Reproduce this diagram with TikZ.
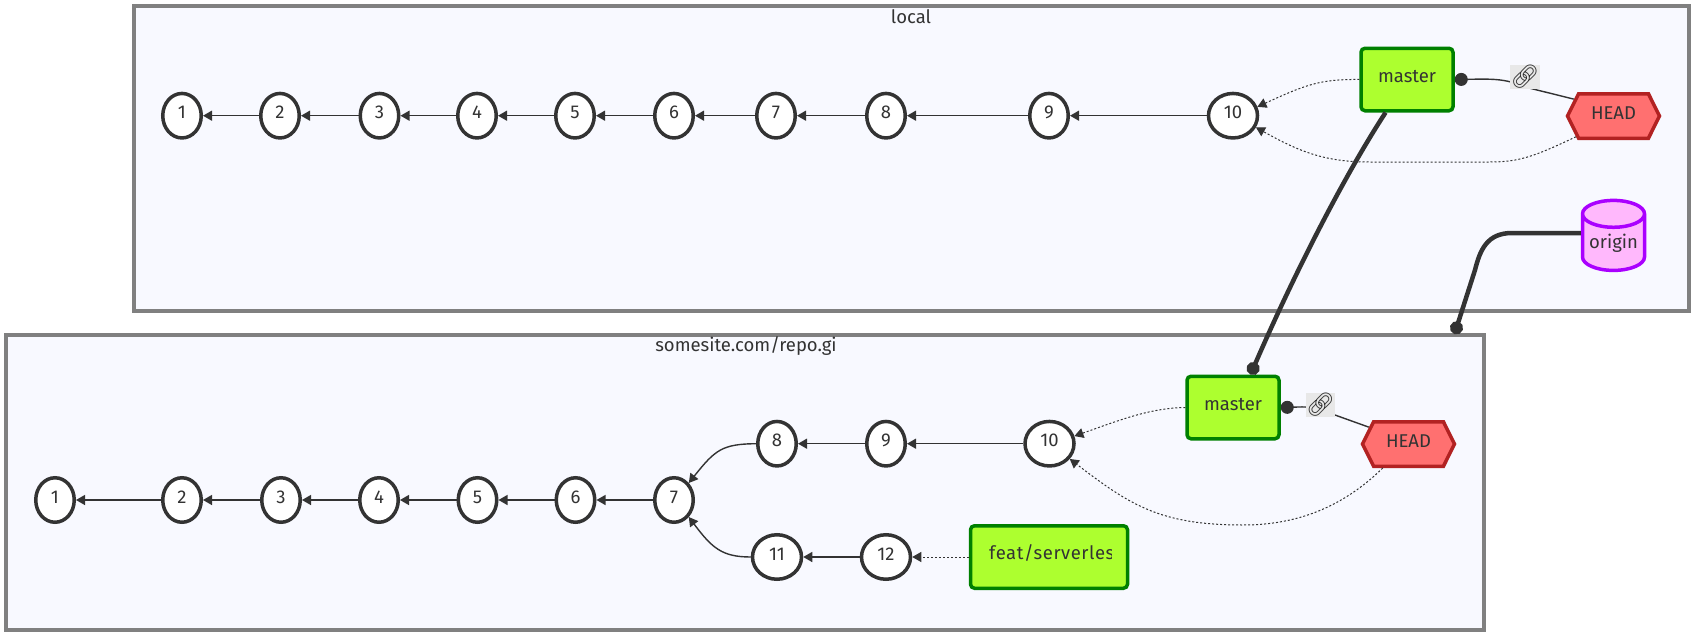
\documentclass[tikz,border=0pt]{standalone}
\usepackage{fontspec}
\setmainfont{Fira Sans}
\newfontfamily\emojifont{Noto Emoji}
\usetikzlibrary{arrows.meta,shapes.geometric,shapes.symbols}
\definecolor{ink}{HTML}{333333}
\definecolor{clusterfill}{HTML}{F8F9FF}
\definecolor{clusterline}{HTML}{808080}
\definecolor{branchfill}{HTML}{ADFF2F}
\definecolor{branchline}{HTML}{008000}
\definecolor{headfill}{HTML}{FF7070}
\definecolor{headline}{HTML}{B22222}
\definecolor{repofill}{HTML}{FFB8FC}
\definecolor{repoline}{HTML}{AA00FF}
\definecolor{linkfill}{HTML}{E8E8E8}
\tikzset{
  x=1pt,y=-1pt,
  every node/.style={font=\fontsize{18.5}{20}\selectfont,text=ink,inner sep=0pt},
  raised/.style={text height=13pt,text depth=7pt},
  cluster/.style={draw=clusterline,fill=clusterfill,line width=3.5pt},
  clustertitle/.style={anchor=center},
  commit/.style={raised,ellipse,draw=ink,fill=white,line width=3.5pt,minimum width=38.5pt,minimum height=44.5pt},
  commitw/.style={commit,minimum width=49pt},
  branch/.style={raised,rectangle,rounded corners=4pt,draw=branchline,fill=branchfill,line width=3.5pt,minimum height=62.5pt,minimum width=92pt},
  headbox/.style={raised,signal,signal to=west and east,signal pointer angle=127,draw=headline,fill=headfill,line width=3.5pt,minimum width=92pt,minimum height=44.5pt},
  repo/.style={cylinder,shape border rotate=90,aspect=0.55,cylinder uses custom fill,cylinder body fill=repofill,cylinder end fill=repofill,draw=repoline,line width=3.5pt,minimum width=62pt,minimum height=70pt},
  linklabel/.style={fill=linkfill,minimum width=24pt,minimum height=24pt,font=\emojifont\fontsize{23}{24}\selectfont},
  solidedge/.style={draw=ink,line width=1.4pt,-{Triangle[length=9pt,width=10pt]}},
  dottededge/.style={draw=ink,line width=1pt,dash pattern=on 2pt off 2pt,-{Triangle[length=9pt,width=10pt]}},
  linkedge/.style={draw=ink,line width=1.4pt,{Circle[length=13pt,width=13pt]}-},
  thickedge/.style={draw=ink,line width=4.5pt,-{Circle[length=13pt,width=13pt]}},
}
\begin{document}
\begin{tikzpicture}
\useasboundingbox (0,0) rectangle (1695,637);
% clusters
\node[cluster,minimum width=1555pt,minimum height=305pt,anchor=north west] (local) at (132,4) {};
\node[cluster,minimum width=1478pt,minimum height=295pt,anchor=north west] (remote) at (4,333) {};
\node[clustertitle] (localt) at (911,17) {local};
\node[clustertitle] (remotet) at (746,346) {somesite.com/repo.gi};
% local commits
\foreach \n/\x in {1/182,2/280,3/379.5,4/477,5/575,6/674,7/776,8/886,9/1049}
  \node[commit] (a\n) at (\x,115.7) {\n};
\node[commitw] (a10) at (1233,115.7) {10};
\node[branch] (m1) at (1407,79.5) {master};
\node[headbox] (h1) at (1613.5,116) {HEAD};
\node[repo] (o) at (1613.5,243) {origin};
% remote commits
\foreach \n/\x in {1/55,2/182,3/281,4/379,5/477.5,6/575.5,7/674}
  \node[commit] (b\n) at (\x,500) {\n};
\node[commit] (b8) at (777,443.7) {8};
\node[commit] (b9) at (886,443.7) {9};
\node[commitw] (b10) at (1049.5,443.7) {10};
\node[commitw] (b11) at (777,557) {11};
\node[commitw] (b12) at (886,557) {12};
\node[branch] (m2) at (1233,407.5) {master};
\node[headbox] (h2) at (1408.5,444) {HEAD};
\node[branch,minimum width=157pt] (fb) at (1049,557) {};
\begin{scope}
  \clip (985,530) rectangle (1111.5,585);
  \node[anchor=west] (fbt) at (989,553) {\addfontfeature{LetterSpace=3}feat/serverless};
\end{scope}
% local edges
\foreach \i/\j in {2/1,3/2,4/3,5/4,6/5,7/6,8/7,9/8,10/9}
  \draw[solidedge] (a\i) -- (a\j);
\draw[dottededge] (m1.west) .. controls (1320,79) and (1305,85) .. (a10.20);
\draw[dottededge] (h1.209) .. controls (1535,156) and (1520,162) .. (1490,162) -- (1370,162) .. controls (1325,162) and (1300,152) .. (a10.-27);
\draw[linkedge] (m1.east) .. controls (1490,79) and (1505,78) .. (1525,87) -- (h1.157);
% remote edges
\foreach \i/\j in {2/1,3/2,4/3,5/4,6/5,7/6,9/8,10/9,12/11}
  \draw[solidedge] (b\i) -- (b\j);
\draw[solidedge] (b8.west) .. controls (722,444) and (715,450) .. (b7.49);
\draw[solidedge] (b11.west) .. controls (722,557) and (712,548) .. (b7.-49);
\draw[dottededge] (fb.west) -- (b12.east);
\draw[dottededge] (m2.west) .. controls (1150,408) and (1120,420) .. (b10.17);
\draw[dottededge] (h2.223) .. controls (1345,505) and (1300,525) .. (1243,525) .. controls (1160,525) and (1130,505) .. (b10.-37);
\draw[linkedge] (m2.east) .. controls (1300,407) and (1310,406) .. (1321,410) -- (h2.157);
% link labels
\node[linklabel] (l1) at (1525,77) {🔗};
\node[linklabel] (l2) at (1320.5,405) {🔗};
% thick edges between clusters
\coordinate (remotehook) at (1454.5,334);
\draw[thickedge] (m1.237) .. controls (1348,170) and (1298,265) .. (m2.62);
\draw[thickedge] ([yshift=10pt]o.west) -- (1512,233) .. controls (1487,233) and (1480,250) .. (1475,270) -- (remotehook);
\end{tikzpicture}
\end{document}
